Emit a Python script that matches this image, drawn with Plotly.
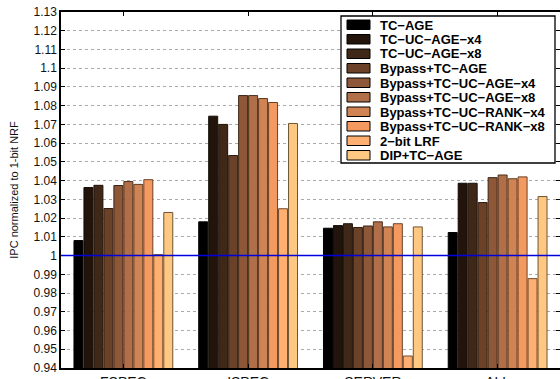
import plotly.graph_objects as go

# Workload groups
groups = ["FSPEC", "ISPEC", "SERVER", "ALL"]

# Replacement / bypass policies
policies = [
    "TC−AGE",
    "TC−UC−AGE−x4",
    "TC−UC−AGE−x8",
    "Bypass+TC−AGE",
    "Bypass+TC−UC−AGE−x4",
    "Bypass+TC−UC−AGE−x8",
    "Bypass+TC−UC−RANK−x4",
    "Bypass+TC−UC−RANK−x8",
    "2−bit LRF",
    "DIP+TC−AGE",
]

# IPC normalized to 1-bit NRF, one list per policy (FSPEC, ISPEC, SERVER, ALL)
tc_age = [1.008, 1.018, 1.0146, 1.0123]
tc_uc_age_x4 = [1.0363, 1.0744, 1.016, 1.0386]
tc_uc_age_x8 = [1.0375, 1.070, 1.017, 1.0386]
bypass_tc_age = [1.0251, 1.0534, 1.015, 1.0283]
bypass_tc_uc_age_x4 = [1.0374, 1.0854, 1.0158, 1.0416]
bypass_tc_uc_age_x8 = [1.0395, 1.0854, 1.018, 1.043]
bypass_tc_uc_rank_x4 = [1.038, 1.0838, 1.0153, 1.041]
bypass_tc_uc_rank_x8 = [1.0405, 1.0817, 1.017, 1.042]
lrf_2bit = [1.0005, 1.025, 0.9464, 0.9877]
dip_tc_age = [1.023, 1.0705, 1.0153, 1.0315]

series = [tc_age, tc_uc_age_x4, tc_uc_age_x8, bypass_tc_age,
          bypass_tc_uc_age_x4, bypass_tc_uc_age_x8, bypass_tc_uc_rank_x4,
          bypass_tc_uc_rank_x8, lrf_2bit, dip_tc_age]

colors = ["#000000", "#22140b", "#402818", "#6b4228", "#8e5838",
          "#b06f48", "#d08454", "#f49a60", "#ffb070", "#ffc882"]
edges = ["#000000", "#120a05", "#1e120a", "#2e1b10", "#3a2416",
         "#4a2e1c", "#5a3820", "#6a4026", "#6e4a2e", "#6e5432"]

# y ticks 0.94 .. 1.13
ytick_vals = [round(0.94 + 0.01 * i, 2) for i in range(20)]
ytick_text = [("%.2f" % v).rstrip("0").rstrip(".") for v in ytick_vals]

W, H = 560, 379
ML, MR, MT, MB = 61, 0, 12, 11
PW, PH = W - ML - MR, H - MT - MB


def px_x(x):
    return (x - ML) / PW


def px_y(y):
    return (H - MB - y) / PH


fig = go.Figure()
for name, vals, c, e in zip(policies, series, colors, edges):
    fig.add_trace(go.Bar(
        x=groups, y=vals, name=name,
        marker=dict(color=c, line=dict(color=e, width=1)),
        showlegend=False,
    ))

shapes = [
    # reference line at 1.0
    dict(type="line", xref="paper", yref="y", x0=0, x1=1, y0=1, y1=1,
         line=dict(color="#0000dd", width=1.5), layer="above"),
    # legend frame
    dict(type="rect", xref="paper", yref="paper",
         x0=px_x(341), x1=px_x(555), y0=px_y(163), y1=px_y(16),
         fillcolor="white", line=dict(color="black", width=1.3), layer="above"),
]
annotations = []
for i, (name, c) in enumerate(zip(policies, colors)):
    top = 20 + 14.5 * i
    shapes.append(dict(
        type="rect", xref="paper", yref="paper",
        x0=px_x(347), x1=px_x(370), y0=px_y(top + 9.5), y1=px_y(top),
        fillcolor=c, line=dict(color="black", width=1), layer="above"))
    annotations.append(dict(
        x=px_x(378), y=px_y(top + 5), xref="paper", yref="paper",
        text=name, showarrow=False, xanchor="left", yanchor="middle",
        font=dict(family="Liberation Sans", size=13, color="black", weight="bold")))

fig.update_layout(
    width=W, height=H,
    margin=dict(l=ML, r=MR, t=MT, b=MB),
    paper_bgcolor="white", plot_bgcolor="white",
    barmode="group", bargap=0.2, bargroupgap=0.1,
    font=dict(family="Liberation Sans", color="#111111"),
    shapes=shapes, annotations=annotations,
    xaxis=dict(
        range=[-0.5, 3.5], showline=True, linecolor="black", linewidth=1.5,
        mirror="ticks", ticks="inside", ticklen=4, tickcolor="black",
        tickfont=dict(size=14, color="#111111"), automargin=False,
    ),
    yaxis=dict(
        range=[0.94, 1.13], tickvals=ytick_vals, ticktext=ytick_text,
        showline=True, linecolor="black", linewidth=1.5, mirror="ticks",
        ticks="inside", ticklen=4, tickcolor="black",
        showgrid=True, gridcolor="#aaaaaa", griddash="dot", gridwidth=1,
        zeroline=False, tickfont=dict(size=12, color="#111111"),
        title=dict(text="IPC normalized to 1-bit NRF", font=dict(size=11), standoff=13),
        automargin=False,
    ),
)

fig.write_html("out.html")
